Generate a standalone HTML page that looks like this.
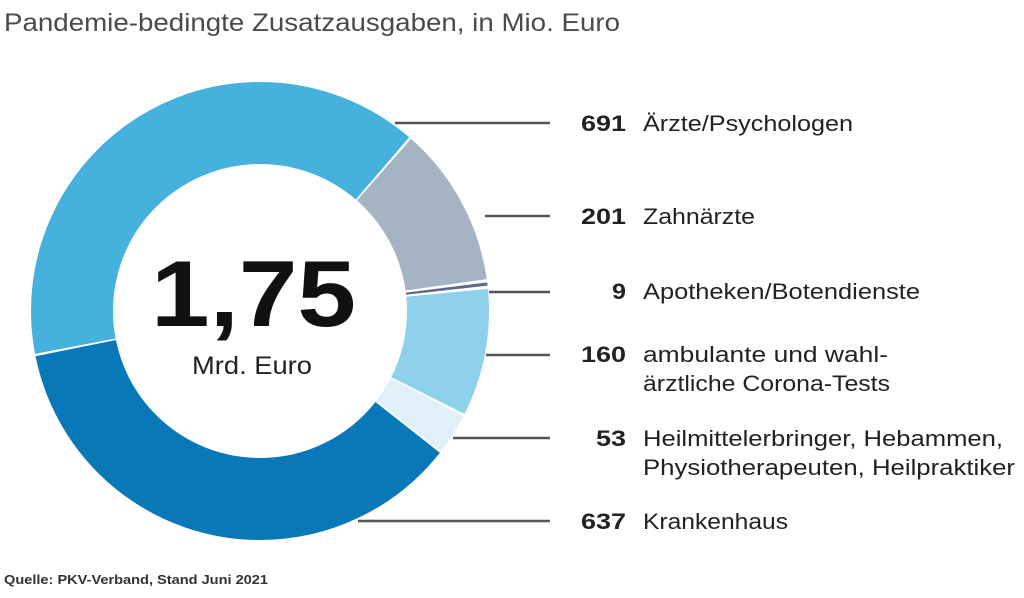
<!DOCTYPE html>
<html><head><meta charset="utf-8"><style>
html,body{margin:0;padding:0;background:#fff;width:1024px;height:598px;overflow:hidden}
svg{display:block}
text{font-family:"Liberation Sans",sans-serif}
</style></head><body>
<svg width="1024" height="598" viewBox="0 0 1024 598">
<text x="4" y="31" font-size="25" fill="#4a4a4a" textLength="616" lengthAdjust="spacingAndGlyphs">Pandemie-bedingte Zusatzausgaben, in Mio. Euro</text>
<g fill="none" stroke-width="82">
<circle cx="260" cy="311" r="188" pathLength="1751" stroke="#45b1dc" stroke-dasharray="688 1063" stroke-dashoffset="-823"/>
<circle cx="260" cy="311" r="188" pathLength="1751" stroke="#a5b4c2" stroke-dasharray="198 1553" stroke-dashoffset="-1514"/>
<circle cx="260" cy="311" r="188" pathLength="1751" stroke="#5d6a88" stroke-dasharray="4 1747" stroke-dashoffset="-1716"/>
<circle cx="260" cy="311" r="188" pathLength="1751" stroke="#8fd0ea" stroke-dasharray="157 1594" stroke-dashoffset="-1724"/>
<circle cx="260" cy="311" r="188" pathLength="1751" stroke="#dff0f8" stroke-dasharray="50 1701" stroke-dashoffset="-133"/>
<circle cx="260" cy="311" r="188" pathLength="1751" stroke="#0878b9" stroke-dasharray="634 1117" stroke-dashoffset="-186"/>
</g>
<g stroke="#555" stroke-width="2.5">
<line x1="395" y1="123" x2="550" y2="123"/>
<line x1="485" y1="216" x2="550" y2="216"/>
<line x1="489" y1="292" x2="550" y2="292"/>
<line x1="486" y1="355" x2="550" y2="355"/>
<line x1="453" y1="438" x2="550" y2="438"/>
<line x1="358" y1="521" x2="550" y2="521"/>
</g>
<text x="151" y="326" font-size="94" font-weight="bold" fill="#111" textLength="205" lengthAdjust="spacingAndGlyphs">1,75</text>
<text x="192" y="374" font-size="25" fill="#222" textLength="120" lengthAdjust="spacingAndGlyphs">Mrd. Euro</text>
<g font-size="22" fill="#222" lengthAdjust="spacingAndGlyphs">
<g font-weight="bold">
<text x="581" y="131" textLength="45" lengthAdjust="spacingAndGlyphs">691</text>
<text x="581" y="224" textLength="45" lengthAdjust="spacingAndGlyphs">201</text>
<text x="612" y="299" textLength="14" lengthAdjust="spacingAndGlyphs">9</text>
<text x="581" y="362" textLength="45" lengthAdjust="spacingAndGlyphs">160</text>
<text x="596" y="446" textLength="30" lengthAdjust="spacingAndGlyphs">53</text>
<text x="581" y="529" textLength="45" lengthAdjust="spacingAndGlyphs">637</text>
</g>
<text x="643" y="131" textLength="210" lengthAdjust="spacingAndGlyphs">Ärzte/Psychologen</text>
<text x="643" y="224" textLength="112" lengthAdjust="spacingAndGlyphs">Zahnärzte</text>
<text x="643" y="299" textLength="277" lengthAdjust="spacingAndGlyphs">Apotheken/Botendienste</text>
<text x="643" y="362" textLength="245" lengthAdjust="spacingAndGlyphs">ambulante und wahl-</text>
<text x="643" y="391" textLength="247" lengthAdjust="spacingAndGlyphs">ärztliche Corona-Tests</text>
<text x="643" y="446" textLength="360" lengthAdjust="spacingAndGlyphs">Heilmittelerbringer, Hebammen,</text>
<text x="643" y="475" textLength="372" lengthAdjust="spacingAndGlyphs">Physiotherapeuten, Heilpraktiker</text>
<text x="643" y="529" textLength="145" lengthAdjust="spacingAndGlyphs">Krankenhaus</text>
</g>
<text x="4" y="584" font-size="13" font-weight="bold" fill="#333" textLength="264" lengthAdjust="spacingAndGlyphs">Quelle: PKV-Verband, Stand Juni 2021</text>
</svg>
</body></html>
